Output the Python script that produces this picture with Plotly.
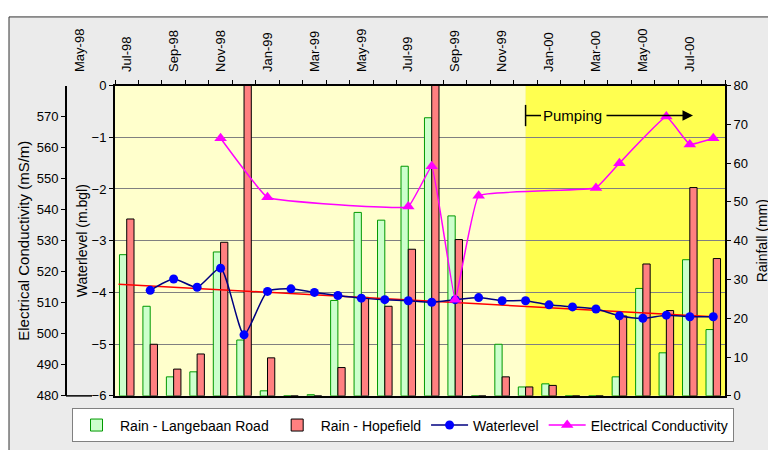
import plotly.graph_objects as go

# ---------------- data ----------------
months = ["Jul-98", "Aug-98", "Sep-98", "Oct-98", "Nov-98", "Dec-98", "Jan-99", "Feb-99",
          "Mar-99", "Apr-99", "May-99", "Jun-99", "Jul-99", "Aug-99", "Sep-99", "Oct-99",
          "Nov-99", "Dec-99", "Jan-00", "Feb-00", "Mar-00", "Apr-00", "May-00", "Jun-00",
          "Jul-00", "Aug-00"]
month_idx = list(range(len(months)))

rain_langebaan = [36.4, 23.1, 4.9, 6.2, 37.1, 14.4, 1.3, 0.0, 0.3, 24.6, 47.3, 45.3, 59.2,
                  71.7, 46.4, 0.0, 13.3, 2.3, 3.1, 0.0, 0.0, 4.9, 27.7, 11.1, 35.1, 17.1]
rain_hopefield = [45.6, 13.3, 6.9, 10.8, 39.6, 95.0, 9.8, 0.0, 0.0, 7.3, 25.4, 23.1, 37.8,
                  95.0, 40.3, 0.0, 4.9, 2.3, 2.7, 0.0, 0.0, 20.6, 34.0, 22.0, 53.7, 35.4]

waterlevel = [None, -3.96, -3.74, -3.90, -3.53, -4.82, -3.98, -3.93, -4.00, -4.06, -4.11,
              -4.14, -4.16, -4.19, -4.14, -4.10, -4.16, -4.16, -4.24, -4.28, -4.32, -4.45,
              -4.50, -4.44, -4.47, -4.47]

ec = [None, None, None, None, 563, None, 544, None, None, None, None, None, 541,
      554, 511, 544.5, None, None, None, None, 547, 555, None, 570, 561, 563]

# linear trendline of the waterlevel, end points
trend_x = [-0.35, 25]
trend_y = [-3.84, -4.47]

top_tick_pos = [-2, 0, 2, 4, 6, 8, 10, 12, 14, 16, 18, 20, 22, 24]
top_tick_text = ["May-98", "Jul-98", "Sep-98", "Nov-98", "Jan-99", "Mar-99", "May-99",
                 "Jul-99", "Sep-99", "Nov-99", "Jan-00", "Mar-00", "May-00", "Jul-00"]

pumping_start = 17      # month index where pumping starts
pumping_label = "Pumping"

wl_ticks = [-6, -5, -4, -3, -2, -1, 0]
ec_ticks = [480, 490, 500, 510, 520, 530, 540, 550, 560, 570]
rain_ticks = [0, 10, 20, 30, 40, 50, 60, 70, 80]

# ---------------- geometry (page pixels; the figure sits 8px in from the page corner) ----------------
W, H = 776, 450
OFF = 8
def px(x):
    return (x - OFF) / W
def py(y):
    return 1 - (y - OFF) / H

x_dom = [px(115), px(725)]
y_dom = [py(402), py(81)]
unit = (725 - 115) / 26.0
def mx(x):   # page pixel -> month coordinate
    return -0.5 + (x - 115) / unit
x2_left = 60
x2_range = [mx(x2_left), 25.5]

FONT = "Liberation Sans, Arial, sans-serif"

fig = go.Figure()

fig.add_trace(go.Bar(
    x=month_idx, y=rain_langebaan, name="Rain - Langebaan Road",
    marker=dict(color="#CCFFCC", line=dict(color="#009900", width=1)),
    yaxis="y", xaxis="x", hoverinfo="skip"))
fig.add_trace(go.Bar(
    x=month_idx, y=rain_hopefield, name="Rain - Hopefield",
    marker=dict(color="#FF8080", line=dict(color="#000000", width=1)),
    yaxis="y", xaxis="x", hoverinfo="skip"))

fig.add_trace(go.Scatter(
    x=trend_x, y=trend_y, mode="lines", line=dict(color="#FF0000", width=1.5),
    showlegend=False, yaxis="y2", xaxis="x", hoverinfo="skip"))

fig.add_trace(go.Scatter(
    x=month_idx, y=waterlevel, name="Waterlevel", mode="lines+markers",
    line=dict(color="#000080", width=1.5, shape="spline", smoothing=0.6),
    marker=dict(color="#0000FF", size=9, symbol="circle"),
    connectgaps=True, yaxis="y2", xaxis="x"))

fig.add_trace(go.Scatter(
    x=month_idx, y=ec, name="Electrical Conductivity", mode="lines+markers",
    line=dict(color="#FF00FF", width=1.5, shape="spline", smoothing=0.25),
    marker=dict(color="#FF00FF", size=11, symbol="triangle-up"),
    connectgaps=True, yaxis="y3", xaxis="x"))

# dummy trace so the top label axis is drawn
fig.add_trace(go.Scatter(x=[None], y=[None], xaxis="x2", yaxis="y",
                         showlegend=False, hoverinfo="skip"))

tickfont = dict(family=FONT, size=13, color="#000000")

fig.update_layout(
    width=W, height=H,
    margin=dict(l=0, r=0, t=0, b=0),
    paper_bgcolor="#FFFFFF",
    plot_bgcolor="rgba(0,0,0,0)",
    font=dict(family=FONT, size=12, color="#000000"),
    barmode="group", bargap=0.38, bargroupgap=0.0,
    xaxis=dict(domain=x_dom, range=[-0.5, 25.5], anchor="y", side="top",
               tickvals=[i + 0.5 for i in range(-1, 26)], showticklabels=False,
               ticks="outside", ticklen=4, tickwidth=1, tickcolor="#000000",
               showline=True, linecolor="#000000", linewidth=2, mirror=True,
               showgrid=False, zeroline=False),
    xaxis2=dict(domain=[px(x2_left), x_dom[1]], range=x2_range, anchor="free",
                position=y_dom[1], side="top",
                tickvals=top_tick_pos, ticktext=top_tick_text, tickangle=-90,
                ticks="outside", ticklen=11, tickcolor="rgba(0,0,0,0)",
                showline=False, showgrid=False, zeroline=False, tickfont=tickfont),
    yaxis=dict(domain=y_dom, range=[0, 80], side="right", anchor="x",
               tickvals=rain_ticks, ticks="outside", ticklen=4, tickcolor="#000000",
               showline=True, linecolor="#000000", linewidth=2,
               showgrid=False, zeroline=False, tickfont=tickfont,
               title=dict(text="Rainfall (mm)", font=dict(family=FONT, size=14), standoff=10)),
    yaxis2=dict(range=[-6, 0], overlaying="y", side="left", anchor="x",
                tickvals=wl_ticks, ticks="outside", ticklen=4, tickcolor="#000000",
                showline=True, linecolor="#000000", linewidth=2,
                showgrid=True, gridcolor="#808080", gridwidth=1, zeroline=False,
                tickfont=tickfont,
                title=dict(text="Waterlevel (m.bgl)", font=dict(family=FONT, size=14), standoff=1)),
    yaxis3=dict(range=[480, 580], overlaying="y", side="left", anchor="free",
                position=px(66), tickvals=ec_ticks, ticks="outside", ticklen=4,
                tickcolor="#000000", showline=True, linecolor="#000000", linewidth=2,
                showgrid=False, zeroline=False, tickfont=tickfont,
                title=dict(text="Electrical Conductivity (mS/m)", font=dict(family=FONT, size=15),
                           standoff=2)),
    legend=dict(orientation="h", x=px(72), y=py(415), xanchor="left", yanchor="top",
                bgcolor="#FFFFFF", bordercolor="#808080", borderwidth=1,
                font=dict(family=FONT, size=14, color="#000000"),
                traceorder="normal", itemwidth=37),
    showlegend=True,
)

shapes = [
    # chart area
    dict(type="rect", xref="paper", yref="paper", x0=px(9), x1=px(775), y0=py(470), y1=py(10),
         fillcolor="#EBEBEB", line=dict(color="#333333", width=1), layer="below"),
    # plot backgrounds
    dict(type="rect", xref="x", yref="paper", x0=-0.5, x1=pumping_start, y0=y_dom[0], y1=y_dom[1],
         fillcolor="#FFFFCC", line=dict(width=0), layer="below"),
    dict(type="rect", xref="x", yref="paper", x0=pumping_start, x1=25.5, y0=y_dom[0], y1=y_dom[1],
         fillcolor="#FFFF50", line=dict(width=0), layer="below"),
    # line joining EC axis and waterlevel axis at the bottom
    dict(type="line", xref="paper", yref="paper", x0=px(66), x1=px(92), y0=y_dom[0], y1=y_dom[0],
         line=dict(color="#000000", width=1.5)),
    # pumping marker
    dict(type="line", xref="x", yref="paper", x0=pumping_start, x1=pumping_start,
         y0=py(123), y1=py(101), line=dict(color="#000000", width=1.5)),
    dict(type="line", xref="x", yref="paper", x0=pumping_start, x1=mx(541),
         y0=py(112), y1=py(112), line=dict(color="#000000", width=1.5)),
]
fig.update_layout(shapes=shapes)

fig.add_annotation(x=mx(572.5), y=py(112), xref="x", yref="paper", text=pumping_label,
                   showarrow=False, xanchor="center", yanchor="middle",
                   font=dict(family=FONT, size=15, color="#000000"))
fig.add_annotation(x=mx(693), y=py(112), xref="x", yref="paper", ax=mx(605), ay=0,
                   axref="x", ayref="pixel", text="", showarrow=True,
                   arrowhead=2, arrowsize=1.4, arrowwidth=1.5, arrowcolor="#000000")

fig.write_html("out.html")
